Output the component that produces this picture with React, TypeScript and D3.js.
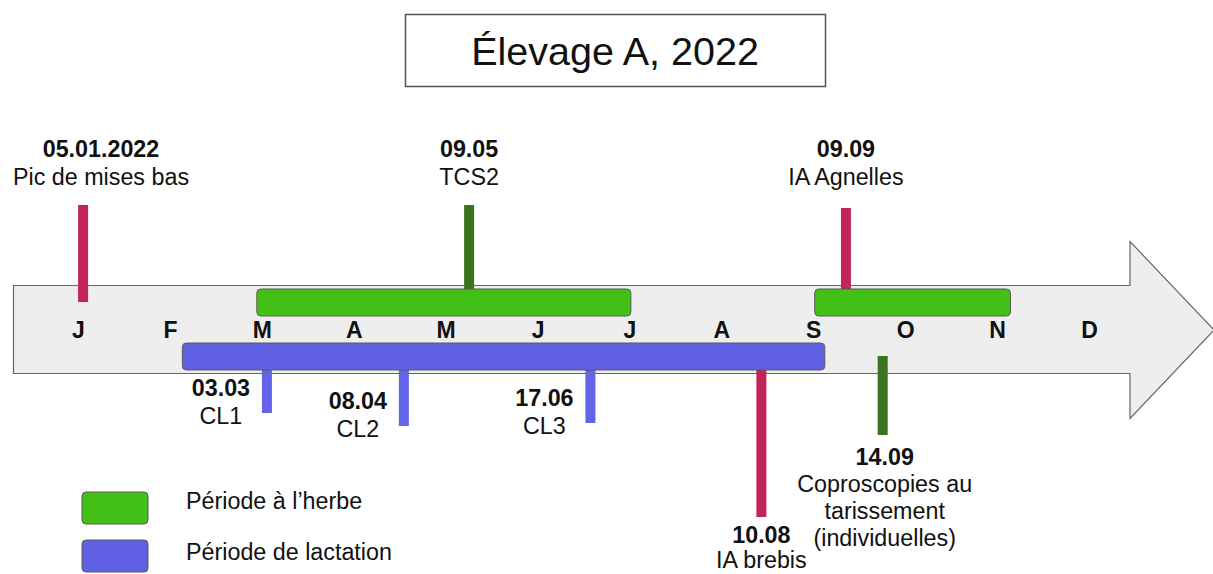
import { useEffect, useRef } from 'react';
import * as d3 from 'd3';

// month initials along the arrow
const months = ['J', 'F', 'M', 'A', 'M', 'J', 'J', 'A', 'S', 'O', 'N', 'D'];

// periods, in month units (0 = J, 11 = D)
const grazing = [
  [1.94, 6.01],
  [8.01, 10.14],
];
const lactation = [[1.13, 8.12]];

// events above the arrow
const topEvents = [
  { date: '05.01.2022', lines: ['Pic de mises bas'], pos: 0.05, kind: 'repro' },
  { date: '09.05', lines: ['TCS2'], pos: 4.25, kind: 'para' },
  { date: '09.09', lines: ['IA Agnelles'], pos: 8.35, kind: 'repro' },
];

// milk checks below the arrow
const milkChecks = [
  { date: '03.03', lines: ['CL1'], pos: 2.05 },
  { date: '08.04', lines: ['CL2'], pos: 3.54 },
  { date: '17.06', lines: ['CL3'], pos: 5.57 },
];

// events below the arrow
const bottomEvents = [
  { date: '10.08', lines: ['IA brebis'], pos: 7.43, kind: 'repro' },
  { date: '14.09', lines: ['Coproscopies au', 'tarissement', '(individuelles)'], pos: 8.75, kind: 'para' },
];

const legend = [
  { label: 'Période à l’herbe', key: 'grazing' },
  { label: 'Période de lactation', key: 'lactation' },
];

const W = 1213;
const H = 574;
const FONT = '"Liberation Sans", Arial, sans-serif';
const FS = 23.3;
const colors: Record<string, string> = {
  grazing: '#42c016',
  lactation: '#6060e2',
  repro: '#c2245a',
  para: '#3a7420',
  check: '#6464e8',
};

export default function App() {
  const ref = useRef<SVGSVGElement>(null);

  useEffect(() => {
    if (!ref.current) return;
    const svg = d3.select(ref.current);
    svg.selectAll('*').remove();

    const x = d3.scaleLinear().domain([0, 11]).range([78.5, 1089.5]);

    // title box
    svg.append('rect').attr('x', 405.5).attr('y', 14.5).attr('width', 420).attr('height', 72)
      .attr('fill', '#fff').attr('stroke', '#555').attr('stroke-width', 1.5);
    svg.append('text').attr('x', 615).attr('y', 65).attr('text-anchor', 'middle')
      .attr('font-family', FONT).attr('font-size', 39.5).attr('fill', '#111')
      .text('Élevage A, 2022');

    // arrow
    const bodyTop = 285, bodyBot = 374, headX = 1130;
    const arrow = d3.path();
    arrow.moveTo(13.5, bodyTop + 0.5);
    arrow.lineTo(headX, bodyTop + 0.5);
    arrow.lineTo(headX, 241.5);
    arrow.lineTo(1214, 330);
    arrow.lineTo(headX, 418.5);
    arrow.lineTo(headX, bodyBot - 0.5);
    arrow.lineTo(13.5, bodyBot - 0.5);
    arrow.closePath();
    svg.append('path').attr('d', arrow.toString()).attr('fill', '#eeeeee')
      .attr('stroke', '#666').attr('stroke-width', 1.2);

    const mark = (px: number, y0: number, y1: number, color: string) =>
      svg.append('rect').attr('x', px - 5).attr('y', y0).attr('width', 10).attr('height', y1 - y0)
        .attr('fill', color);

    // top event marks
    const topY: Record<string, [number, number]> = { '05.01.2022': [205, 302], '09.05': [205, 289], '09.09': [208, 289] };
    topEvents.forEach((e) => mark(x(e.pos), topY[e.date][0], topY[e.date][1], colors[e.kind]));

    // bottom event marks
    const botY: Record<string, [number, number]> = { '10.08': [370, 517], '14.09': [356, 435] };
    bottomEvents.forEach((e) => mark(x(e.pos), botY[e.date][0], botY[e.date][1], colors[e.kind]));

    // milk check marks
    const checkBottom: Record<string, number> = { '03.03': 413, '08.04': 426, '17.06': 423 };
    milkChecks.forEach((e) => mark(x(e.pos), 370, checkBottom[e.date], colors.check));

    // period bars
    const bar = (rows: number[][], y0: number, y1: number, color: string) =>
      svg.append('g').selectAll('rect').data(rows).join('rect')
        .attr('x', (d) => x(d[0])).attr('y', y0)
        .attr('width', (d) => x(d[1]) - x(d[0])).attr('height', y1 - y0)
        .attr('rx', 4).attr('fill', color).attr('stroke', '#5a5a5a').attr('stroke-width', 1);
    bar(grazing, 289, 316, colors.grazing);
    bar(lactation, 343, 370, colors.lactation);

    // month labels
    svg.append('g').selectAll('text').data(months).join('text')
      .attr('x', (_, i) => x(i)).attr('y', 338).attr('text-anchor', 'middle')
      .attr('font-family', FONT).attr('font-weight', 'bold').attr('font-size', 23).attr('fill', '#111')
      .text((d) => d);

    const label = (cx: number, y: number, date: string, lines: string[], step = 28) => {
      const t = svg.append('text').attr('text-anchor', 'middle').attr('font-family', FONT)
        .attr('font-size', FS).attr('fill', '#111');
      t.append('tspan').attr('x', cx).attr('y', y).attr('font-weight', 'bold').text(date);
      lines.forEach((l, i) => t.append('tspan').attr('x', cx).attr('y', y + step * (i + 1)).text(l));
    };

    topEvents.forEach((e) => {
      const cx = Math.max(x(e.pos), 101);
      label(cx, 157, e.date, e.lines);
    });
    milkChecks.forEach((e) => label(x(e.pos) - 46, checkBottom[e.date] - 17, e.date, e.lines));
    label(x(bottomEvents[0].pos), 543, bottomEvents[0].date, bottomEvents[0].lines, 25);
    label(x(bottomEvents[1].pos) + 2, 465, bottomEvents[1].date, bottomEvents[1].lines, 27);

    // legend
    const lg = svg.append('g').selectAll('g').data(legend).join('g')
      .attr('transform', (_, i) => `translate(82,${492 + i * 48})`);
    lg.append('rect').attr('width', 66).attr('height', 32).attr('rx', 4)
      .attr('fill', (d) => colors[d.key]).attr('stroke', '#5a5a5a');
    lg.append('text').attr('x', 104).attr('y', (_, i) => 17 + i * 3).attr('font-family', FONT)
      .attr('font-size', FS).attr('fill', '#111').text((d) => d.label);
  }, []);

  return (
    <svg ref={ref} width={W} height={H} style={{ position: 'fixed', left: 0, top: 0, background: '#fff' }} />
  );
}
